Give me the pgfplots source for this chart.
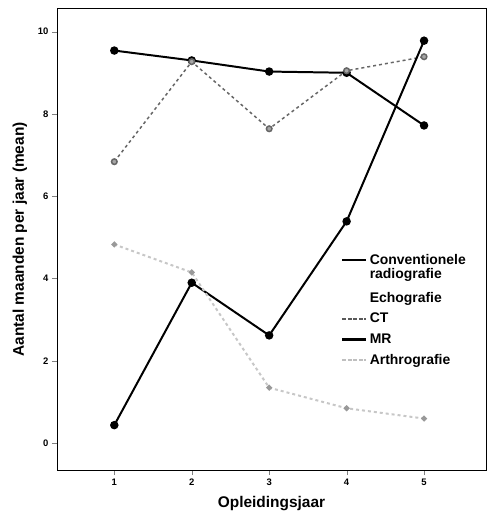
\documentclass[border=0pt]{standalone}
\usepackage{pgfplots}
\pgfplotsset{compat=1.18}
\usepackage{fontspec}
\setmainfont{Liberation Sans}
\newcommand{\convrad}{\begin{tabular}[t]{@{}l@{}}Conventionele\\[-1pt]radiografie\end{tabular}}
\begin{document}
\begin{tikzpicture}[x=1bp,y=1bp]
\path[use as bounding box] (-57,-52) rectangle (430,470);
\begin{axis}[
  at={(0,0)}, anchor=south west,
  scale only axis, width=429bp, height=461bp,
  xmin=0.26, xmax=5.8, ymin=-0.65, ymax=10.55,
  xtick={1,2,3,4,5}, ytick={0,2,4,6,8,10},
  tick align=outside, tick pos=left, major tick length=5bp,
  axis line style={line width=1pt},
  /pgf/number format/assume math mode=true,
  ticklabel style={font=\bfseries\fontsize{9.5}{11}\selectfont},
  xlabel={\bfseries Opleidingsjaar},
  ylabel={\bfseries Aantal maanden per jaar (mean)},
  label style={font=\bfseries\fontsize{15.5}{17}\selectfont},
  xlabel style={yshift=-4bp},
  ylabel style={yshift=4bp},
  legend style={draw=none, fill=none, at={(rel axis cs:0.655,0.478)}, anchor=north west,
    font=\bfseries\fontsize{14}{15}\selectfont, row sep=5.5pt},
  legend cell align=left,
]
\addplot[black, line width=2pt, mark=*, mark size=3.2pt, forget plot] coordinates {(1,9.54) (2,9.3) (3,9.03) (4,9.0) (5,7.72)};
\addplot[black!60, line width=1.5pt, dashed, mark=*, mark size=2.8pt, mark options={solid, fill=black!35, draw=black!60}, forget plot] coordinates {(1,6.84) (2,9.27) (3,7.64) (4,9.05) (5,9.39)};
\addplot[black, line width=2pt, mark=*, mark size=3.2pt, forget plot] coordinates {(1,0.44) (2,3.9) (3,2.62) (4,5.39) (5,9.78)};
\addplot[black!22, line width=2pt, dashed, mark=*, mark size=1.8pt, mark options={solid, fill=black!40, draw=black!40}, forget plot] coordinates {(1,4.83) (2,4.15) (3,1.35) (4,0.85) (5,0.6)};
\addlegendimage{legend image code/.code={\draw[black, line width=2.6pt] (0bp,0bp) -- (24bp,0bp);}}
\addlegendentry{\convrad}
\addlegendimage{legend image code/.code={\draw[white, line width=0.1pt, opacity=0] (0bp,0bp) -- (24bp,0bp);}}
\addlegendentry{\rule{0pt}{27bp}Echografie}
\addlegendimage{legend image code/.code={\draw[black!65, line width=2.2pt, dash pattern=on 4bp off 1.5bp] (0bp,0bp) -- (24bp,0bp);}}
\addlegendentry{CT}
\addlegendimage{legend image code/.code={\draw[black, line width=2.6pt] (0bp,0bp) -- (24bp,0bp);}}
\addlegendentry{MR}
\addlegendimage{legend image code/.code={\draw[black!25, line width=2.4pt, dash pattern=on 4bp off 1.5bp] (0bp,0bp) -- (24bp,0bp);}}
\addlegendentry{Arthrografie}
\end{axis}
\end{tikzpicture}
\end{document}
